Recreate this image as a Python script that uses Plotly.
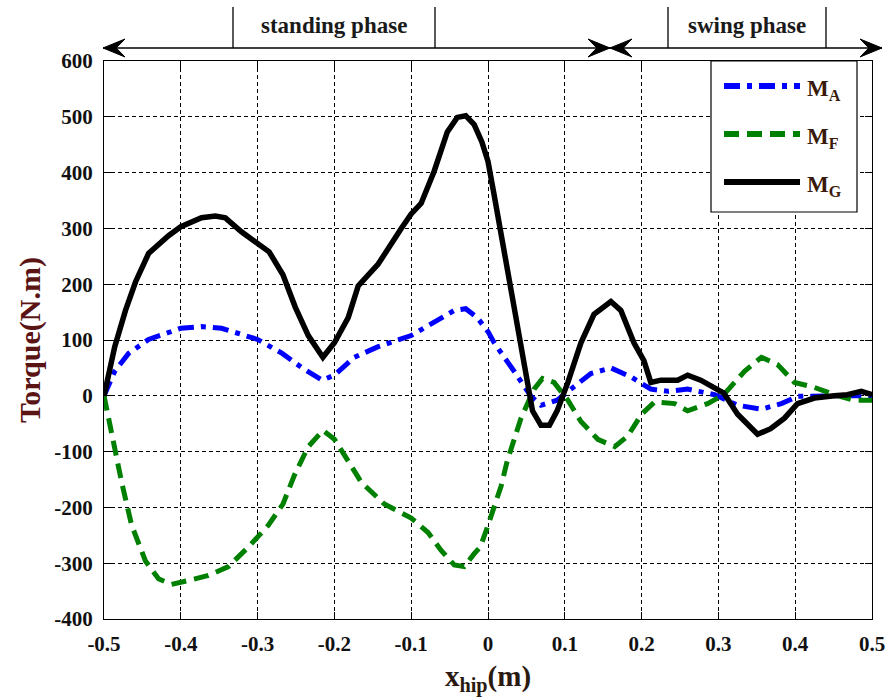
import plotly.graph_objects as go

# ---------------- data ----------------
x_MA = [-0.5, -0.486, -0.468, -0.442, -0.4, -0.373, -0.347, -0.3, -0.268, -0.242, -0.216, -0.2,
        -0.174, -0.143, -0.1, -0.07, -0.044, -0.029, -0.014, 0.0, 0.008, 0.034, 0.056, 0.069,
        0.09, 0.108, 0.134, 0.16, 0.186, 0.212, 0.234, 0.26, 0.295, 0.325, 0.356, 0.382, 0.403,
        0.447, 0.5]
MA = [0, 44, 76, 101, 121, 124, 121, 101, 76, 50, 28, 37,
      69, 88, 108, 133, 153, 156, 140, 115, 95, 44, -1, -17,
      -8, 12, 40, 50, 34, 12, 8, 12, 2, -17, -24, -14, -1,
      0, 0]

x_MF = [-0.5, -0.49, -0.477, -0.464, -0.446, -0.429, -0.412, -0.39, -0.364, -0.338, -0.312,
        -0.286, -0.267, -0.252, -0.234, -0.215, -0.2, -0.182, -0.165, -0.135, -0.1, -0.078,
        -0.061, -0.044, -0.031, -0.018, -0.01, 0.0, 0.008, 0.017, 0.025, 0.043, 0.06, 0.071,
        0.086, 0.104, 0.121, 0.143, 0.165, 0.182, 0.2, 0.217, 0.243, 0.26, 0.286, 0.307, 0.334,
        0.356, 0.377, 0.399, 0.425, 0.451, 0.477, 0.5]
MF = [0, -72, -155, -232, -296, -328, -338, -331, -322, -306, -271,
      -232, -194, -142, -91, -62, -78, -117, -155, -194, -219, -245,
      -277, -303, -306, -283, -271, -232, -200, -162, -117, -40, 12, 31,
      24, -8, -46, -78, -91, -72, -33, -11, -14, -27, -14, 2, 44,
      69, 56, 24, 15, 2, -8, -8]

x_MG = [-0.5, -0.486, -0.472, -0.459, -0.442, -0.416, -0.4, -0.373, -0.355, -0.342, -0.321,
        -0.3, -0.285, -0.267, -0.251, -0.234, -0.215, -0.2, -0.182, -0.169, -0.143, -0.113,
        -0.1, -0.087, -0.07, -0.053, -0.04, -0.029, -0.018, -0.008, 0.0, 0.008, 0.017, 0.034,
        0.047, 0.058, 0.069, 0.08, 0.09, 0.104, 0.121, 0.138, 0.16, 0.173, 0.19, 0.203, 0.212,
        0.225, 0.247, 0.26, 0.277, 0.307, 0.325, 0.351, 0.368, 0.386, 0.403, 0.425, 0.451,
        0.468, 0.486, 0.5]
MG = [0, 88, 153, 204, 255, 287, 303, 319, 322, 319, 294,
      274, 258, 217, 159, 108, 69, 95, 140, 197, 236, 300,
      326, 345, 403, 473, 499, 502, 486, 455, 420, 360, 290, 153,
      56, -27, -53, -53, -27, 24, 95, 146, 169, 153, 95, 63, 24,
      28, 28, 37, 28, 5, -33, -69, -59, -40, -14, -4, 0,
      2, 8, 2]

series_names = ["M<sub>A</sub>", "M<sub>F</sub>", "M<sub>G</sub>"]
x_tickvals = [-0.5, -0.4, -0.3, -0.2, -0.1, 0, 0.1, 0.2, 0.3, 0.4, 0.5]
x_ticktext = ["-0.5", "-0.4", "-0.3", "-0.2", "-0.1", "0", "0.1", "0.2", "0.3", "0.4", "0.5"]
y_tickvals = [-400, -300, -200, -100, 0, 100, 200, 300, 400, 500, 600]
y_ticktext = ["-400", "-300", "-200", "-100", "0", "100", "200", "300", "400", "500", "600"]
phase_labels = ["standing phase", "swing phase"]

# ---------------- styling / layout ----------------
FONT = "Liberation Serif"
W, H = 890, 700
L, R, T, B = 104, 18, 61, 81
PW, PH = W - L - R, H - T - B

def px_x(px):
    return (px - L) / PW

def px_y(py):
    return (H - B - py) / PH

colors = ["#0000ff", "#008000", "#000000"]
dashes = ["16px,7px,5px,7px", "15px,8px", "solid"]
widths = [5, 5, 5.5]

fig = go.Figure()
for xs, ys, nm, c, d, w in zip([x_MA, x_MF, x_MG], [MA, MF, MG], series_names, colors, dashes, widths):
    fig.add_trace(go.Scatter(x=xs, y=ys, mode="lines", name=nm, showlegend=False,
                             line=dict(color=c, width=w, dash=d)))

shapes = []
# legend box (manual, like the MATLAB legend)
shapes.append(dict(type="rect", xref="paper", yref="paper", layer="above",
                   x0=px_x(711), x1=px_x(857), y0=px_y(212), y1=px_y(61),
                   line=dict(color="black", width=1.2), fillcolor="white"))
legend_y = [86, 134, 182]
for ly, c, d in zip(legend_y, colors, dashes):
    shapes.append(dict(type="line", xref="paper", yref="paper", layer="above",
                       x0=px_x(724), x1=px_x(800), y0=px_y(ly), y1=px_y(ly),
                       line=dict(color=c, width=6, dash=d)))

# top phase bar
ARROW_Y = 48
shapes.append(dict(type="line", xref="paper", yref="paper",
                   x0=px_x(103), x1=px_x(882), y0=px_y(ARROW_Y), y1=px_y(ARROW_Y),
                   line=dict(color="black", width=1.3)))
for vx in [233, 435, 668, 826]:
    shapes.append(dict(type="line", xref="paper", yref="paper",
                       x0=px_x(vx), x1=px_x(vx), y0=px_y(ARROW_Y), y1=px_y(7),
                       line=dict(color="black", width=1.3)))

def head(tip, direction, Lh=22, Wh=9, notch=0.6):
    # direction = -1 pointing left, +1 pointing right
    bx = tip - direction * Lh
    nx = tip - direction * Lh * notch
    pts = [(tip, ARROW_Y), (bx, ARROW_Y - Wh), (nx, ARROW_Y), (bx, ARROW_Y + Wh)]
    p = "M " + " L ".join(f"{px_x(a):.5f},{px_y(b):.5f}" for a, b in pts) + " Z"
    return dict(type="path", xref="paper", yref="paper", path=p,
                fillcolor="black", line=dict(color="black", width=1))

shapes += [head(103, -1), head(610, 1), head(610, -1), head(882, 1)]

annotations = []
for txt, cx in zip(phase_labels, [334, 747]):
    annotations.append(dict(text="<b>" + txt + "</b>", xref="paper", yref="paper", x=px_x(cx), y=px_y(26),
                            xanchor="center", yanchor="middle", showarrow=False,
                            font=dict(family=FONT, size=23, color="#1a1a1a")))
for ly, nm in zip(legend_y, series_names):
    annotations.append(dict(text="<b>" + nm + "</b>", xref="paper", yref="paper", x=px_x(805), y=px_y(ly + 4),
                            xanchor="left", yanchor="middle", showarrow=False,
                            font=dict(family=FONT, size=23, color="#3a1a0a")))

axis_common = dict(showline=True, linecolor="black", linewidth=1.2, mirror="ticks",
                   ticks="inside", ticklen=7, tickwidth=1, tickcolor="black",
                   showgrid=True, gridcolor="black", gridwidth=1, griddash="4px,3px",
                   zeroline=False,
                   tickfont=dict(family=FONT, size=21, color="#111111", weight="bold"))

fig.update_layout(
    width=W, height=H,
    margin=dict(l=L, r=R, t=T, b=B, autoexpand=False),
    paper_bgcolor="white", plot_bgcolor="white",
    xaxis=dict(range=[-0.5, 0.5], tickvals=x_tickvals, ticktext=x_ticktext,
               ticklabelstandoff=6,
               title=dict(text="<b>x<sub>hip</sub>(m)</b>", standoff=10,
                          font=dict(family=FONT, size=29, color="#2a1a10")),
               **axis_common),
    yaxis=dict(range=[-400, 600], tickvals=y_tickvals, ticktext=y_ticktext,
               ticklabelstandoff=6,
               title=dict(text="<b>Torque(N.m)</b>", standoff=4,
                          font=dict(family=FONT, size=30, color="#5a1414")),
               **axis_common),
    shapes=shapes,
    annotations=annotations,
    showlegend=False,
)

fig.write_html("out.html")
